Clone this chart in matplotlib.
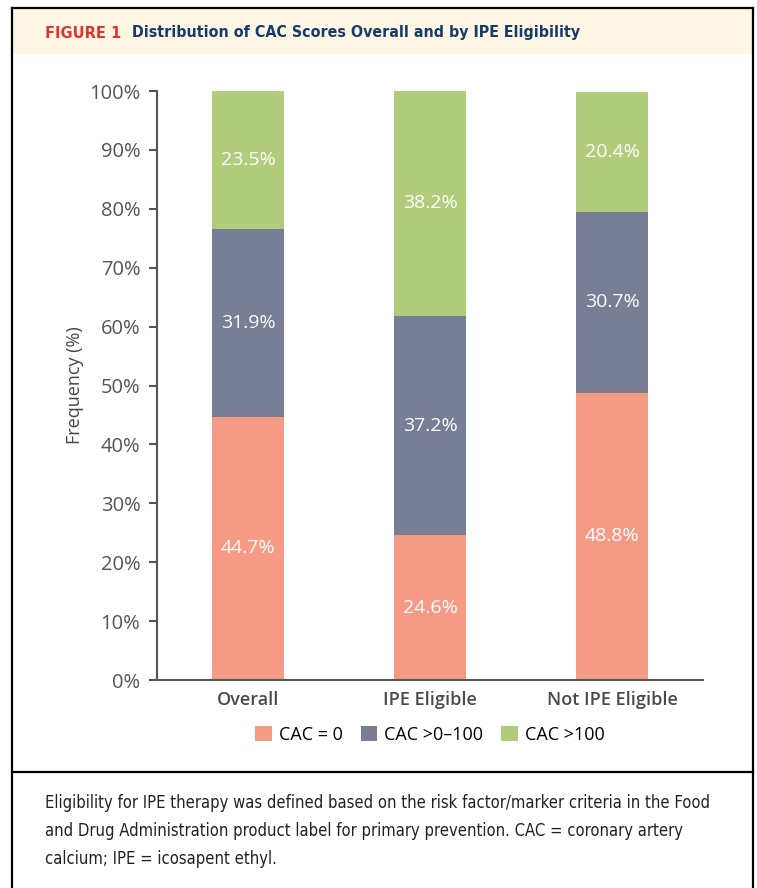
import matplotlib.pyplot as plt
from matplotlib.patches import Rectangle
from matplotlib.lines import Line2D

# CAC score distribution per group (%)
groups = ["Overall", "IPE Eligible", "Not IPE Eligible"]
cac_zero = [44.7, 24.6, 48.8]
cac_low = [31.9, 37.2, 30.7]
cac_high = [23.5, 38.2, 20.4]
series_names = ["CAC = 0", "CAC >0\u2013100", "CAC >100"]
y_ticks = [0, 10, 20, 30, 40, 50, 60, 70, 80, 90, 100]

colors = ["#F59A84", "#777E96", "#B1CC7A"]
W, H = 757, 888

fig = plt.figure(figsize=(W / 100, H / 100), dpi=100)
fig.patch.set_facecolor("white")


def fx(px):
    return px / W


def fy(py):
    return 1 - py / H


# header band and frame
fig.add_artist(Rectangle((fx(12), fy(54)), fx(741), fy(8) - fy(54),
                         transform=fig.transFigure, facecolor="#FDF6E4",
                         edgecolor="none", zorder=0))
for xs, ys in [([12, 753], [8, 8]), ([12, 12], [8, 888]), ([753, 753], [8, 888]),
               ([12, 753], [772, 772])]:
    fig.add_artist(Line2D([fx(x) for x in xs], [fy(y) for y in ys],
                          transform=fig.transFigure, color="black", lw=1.6))

fig.text(fx(45), fy(33), "FIGURE 1", color="#E2332F", fontsize=10.5,
         fontweight="bold", family="DejaVu Sans", va="center")
fig.text(fx(132), fy(33), "Distribution of CAC Scores Overall and by IPE Eligibility",
         color="#173A6A", fontsize=11.4, fontweight="bold", fontstretch="condensed",
         family="DejaVu Sans", va="center")

ax = fig.add_axes([fx(157), fy(680), fx(703) - fx(157), fy(91) - fy(680)])
x = range(len(groups))
bottom = [0] * len(groups)
for vals, name, c in zip([cac_zero, cac_low, cac_high], series_names, colors):
    bars = ax.bar(x, vals, width=0.4, bottom=bottom, color=c, label=name)
    ax.bar_label(bars, labels=[f"{v:.1f}%" for v in vals], label_type="center",
                 color="white", fontsize=14, family="Open Sans")
    bottom = [b + v for b, v in zip(bottom, vals)]

ax.set_xlim(-0.5, 2.5)
ax.set_ylim(0, 100)
ax.set_yticks(y_ticks)
ax.set_yticklabels([f"{t}%" for t in y_ticks], family="Open Sans",
                   fontsize=14.5, color="#555555")
ax.set_xticks(list(x))
ax.set_xticklabels(groups, family="Open Sans", fontsize=13,
                   fontweight="semibold", color="#4A4A4A")
ax.tick_params(axis="y", length=6, width=1.5, color="#555555", pad=6)
ax.tick_params(axis="x", length=0, pad=8)
for s in ["top", "right"]:
    ax.spines[s].set_visible(False)
for s in ["left", "bottom"]:
    ax.spines[s].set_color("#555555")
    ax.spines[s].set_linewidth(1.5)
ax.set_ylabel("Frequency (%)", family="Open Sans", fontsize=13,
              color="#444444", labelpad=4)

ax.legend(loc="center", bbox_to_anchor=(0.5, (fy(735) - fy(680)) / (fy(91) - fy(680))),
          ncol=3, frameon=False, handlelength=0.9, handleheight=0.9,
          handletextpad=0.4, columnspacing=1.0,
          prop={"family": "Open Sans", "size": 13})

caption = ("Eligibility for IPE therapy was defined based on the risk factor/marker criteria in the Food\n"
           "and Drug Administration product label for primary prevention. CAC = coronary artery\n"
           "calcium; IPE = icosapent ethyl.")
fig.text(fx(45), fy(794), caption, family="DejaVu Sans", fontstretch="condensed",
         fontsize=11.9, color="#222222", va="top", linespacing=1.71)

fig.savefig("out.png", dpi=100)
